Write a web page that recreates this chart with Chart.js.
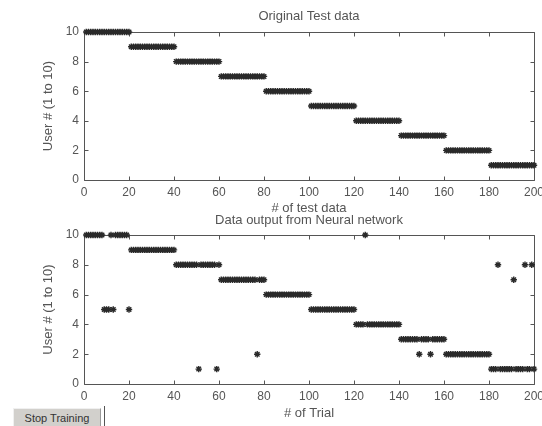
<!DOCTYPE html>
<html>
<head>
<meta charset="utf-8">
<script src="https://cdn.jsdelivr.net/npm/chart.js@4/dist/chart.umd.min.js"></script>
<style>
html, body { margin:0; padding:0; background:#fff; width:542px; height:426px; overflow:hidden; }
#c1 { position:absolute; left:0; top:0; }
#c2 { position:absolute; left:0; top:204px; }
#btn { position:absolute; left:13px; top:408px; width:88px; height:18px; background:#d2d0cc;
  border-top:1px solid #f0f0f0; border-left:1px solid #f0f0f0; border-right:1px solid #9a9a9a;
  font-family:'Liberation Sans', Arial, sans-serif; font-size:11px; color:#333; text-align:center; line-height:18px; box-sizing:border-box; }
#btnline { position:absolute; left:104px; top:406px; width:1px; height:20px; background:#555; }
</style>
</head>
<body>
<canvas id="c1" width="542" height="216" style="width:542px;height:216px"></canvas>
<canvas id="c2" width="542" height="217" style="width:542px;height:217px"></canvas>
<div id="btn">Stop Training</div>
<div id="btnline"></div>
<script>
// ---- data ----
const trials = [
  1,2,3,4,5,6,7,8,9,10,11,12,13,14,15,16,17,18,19,20,
  21,22,23,24,25,26,27,28,29,30,31,32,33,34,35,36,37,38,39,40,
  41,42,43,44,45,46,47,48,49,50,51,52,53,54,55,56,57,58,59,60,
  61,62,63,64,65,66,67,68,69,70,71,72,73,74,75,76,77,78,79,80,
  81,82,83,84,85,86,87,88,89,90,91,92,93,94,95,96,97,98,99,100,
  101,102,103,104,105,106,107,108,109,110,111,112,113,114,115,116,117,118,119,120,
  121,122,123,124,125,126,127,128,129,130,131,132,133,134,135,136,137,138,139,140,
  141,142,143,144,145,146,147,148,149,150,151,152,153,154,155,156,157,158,159,160,
  161,162,163,164,165,166,167,168,169,170,171,172,173,174,175,176,177,178,179,180,
  181,182,183,184,185,186,187,188,189,190,191,192,193,194,195,196,197,198,199,200
];
const originalUser = [
  10,10,10,10,10,10,10,10,10,10,10,10,10,10,10,10,10,10,10,10,
  9,9,9,9,9,9,9,9,9,9,9,9,9,9,9,9,9,9,9,9,
  8,8,8,8,8,8,8,8,8,8,8,8,8,8,8,8,8,8,8,8,
  7,7,7,7,7,7,7,7,7,7,7,7,7,7,7,7,7,7,7,7,
  6,6,6,6,6,6,6,6,6,6,6,6,6,6,6,6,6,6,6,6,
  5,5,5,5,5,5,5,5,5,5,5,5,5,5,5,5,5,5,5,5,
  4,4,4,4,4,4,4,4,4,4,4,4,4,4,4,4,4,4,4,4,
  3,3,3,3,3,3,3,3,3,3,3,3,3,3,3,3,3,3,3,3,
  2,2,2,2,2,2,2,2,2,2,2,2,2,2,2,2,2,2,2,2,
  1,1,1,1,1,1,1,1,1,1,1,1,1,1,1,1,1,1,1,1
];
const networkOutput = [
  10,10,10,10,10,10,10,10,5,5,5,10,5,10,10,10,10,10,10,5,
  9,9,9,9,9,9,9,9,9,9,9,9,9,9,9,9,9,9,9,9,
  8,8,8,8,8,8,8,8,8,8,1,8,8,8,8,8,8,8,1,8,
  7,7,7,7,7,7,7,7,7,7,7,7,7,7,7,7,2,7,7,7,
  6,6,6,6,6,6,6,6,6,6,6,6,6,6,6,6,6,6,6,6,
  5,5,5,5,5,5,5,5,5,5,5,5,5,5,5,5,5,5,5,5,
  4,4,4,4,10,4,4,4,4,4,4,4,4,4,4,4,4,4,4,4,
  3,3,3,3,3,3,3,3,2,3,3,3,3,2,3,3,3,3,3,3,
  2,2,2,2,2,2,2,2,2,2,2,2,2,2,2,2,2,2,2,2,
  1,1,1,8,1,1,1,1,1,1,7,1,1,1,1,8,1,1,8,1
];
const xTicks = [0,20,40,60,80,100,120,140,160,180,200];
const yTicks = [0,2,4,6,8,10];

// ---- styling ----
const FONT = "'Liberation Sans', Arial, sans-serif";
const TXT = '#555';
const AX = '#555';

const boxPlugin = {
  id: 'matlabBox',
  beforeDatasetsDraw(chart) {
    const {ctx, chartArea: a, scales: {x, y}} = chart;
    ctx.save();
    ctx.strokeStyle = AX;
    ctx.lineWidth = 1;
    const L = Math.round(a.left) + 0.5, R = Math.round(a.right) + 0.5;
    const T = Math.round(a.top) + 0.5, B = Math.round(a.bottom) + 0.5;
    ctx.beginPath();
    ctx.rect(L, T, R - L, B - T);
    x.ticks.forEach(t => {
      const p = Math.round(x.getPixelForValue(t.value)) + 0.5;
      ctx.moveTo(p, B); ctx.lineTo(p, B - 4);
      ctx.moveTo(p, T); ctx.lineTo(p, T + 4);
    });
    y.ticks.forEach(t => {
      const p = Math.round(y.getPixelForValue(t.value)) + 0.5;
      ctx.moveTo(L, p); ctx.lineTo(L + 4, p);
      ctx.moveTo(R, p); ctx.lineTo(R - 4, p);
    });
    ctx.stroke();
    ctx.restore();
  }
};

function makeChart(canvas, values, titleText, xTitleText, titlePad, xAxisH) {
  return new Chart(canvas, {
    type: 'scatter',
    data: {
      datasets: [{
        data: trials.map((t, i) => ({x: t, y: values[i]})),
        pointStyle: 'star',
        radius: 3.2,
        borderWidth: 1.4,
        borderColor: '#2a2a2a',
        backgroundColor: '#2a2a2a',
        clip: false
      }]
    },
    options: {
      responsive: false,
      animation: false,
      events: [],
      layout: {padding: {left: 0, right: 8, top: 0, bottom: 0}},
      plugins: {
        legend: {display: false},
        tooltip: {enabled: false},
        title: {
          display: true, text: titleText, fullSize: false, color: TXT,
          font: {family: FONT, size: 13, weight: 'normal'}, padding: titlePad
        }
      },
      scales: {
        x: {
          type: 'linear', min: 0, max: 200,
          grid: {display: false, drawTicks: false},
          border: {display: false},
          ticks: {color: TXT, font: {family: FONT, size: 12}, padding: 5, maxRotation: 0, autoSkip: false},
          afterBuildTicks: s => { s.ticks = xTicks.map(v => ({value: v})); },
          title: {display: true, text: xTitleText, color: TXT, font: {family: FONT, size: 13}, padding: {top: 0, bottom: 0}},
          afterFit: s => { s.height = xAxisH; s.paddingLeft = 0; s.paddingRight = 0; }
        },
        y: {
          type: 'linear', min: 0, max: 10,
          grid: {display: false, drawTicks: false},
          border: {display: false},
          ticks: {color: TXT, font: {family: FONT, size: 12}, padding: 5, autoSkip: false},
          afterBuildTicks: s => { s.ticks = yTicks.map(v => ({value: v})); },
          title: {display: true, text: 'User # (1 to 10)', color: TXT, font: {family: FONT, size: 13}, padding: {top: 40.2, bottom: 0}},
          afterFit: s => { s.width = 84; s.paddingTop = 0; s.paddingBottom = 0; }
        }
      }
    },
    plugins: [boxPlugin]
  });
}

makeChart(document.getElementById('c1'), originalUser, 'Original Test data', '# of test data', {top: 8.2, bottom: 8.2}, 36);
makeChart(document.getElementById('c2'), networkOutput, 'Data output from Neural network', '# of Trial', {top: 8.2, bottom: 7.2}, 37);
</script>
</body>
</html>
